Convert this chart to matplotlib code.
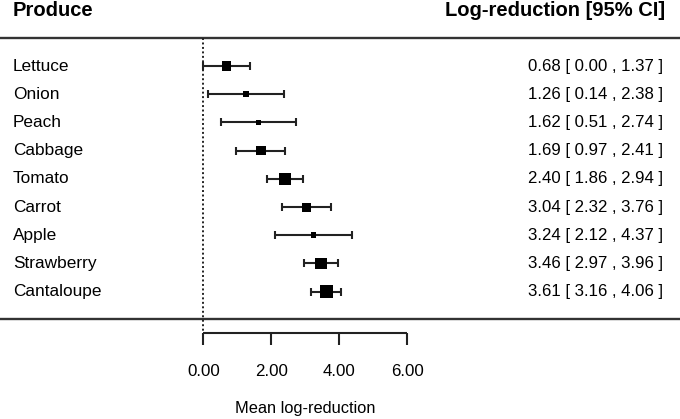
import matplotlib
matplotlib.use("Agg")
import matplotlib.pyplot as plt
import numpy as np

plt.rcParams['font.family'] = ['Liberation Sans', 'DejaVu Sans']

produce = ["Lettuce", "Onion", "Peach", "Cabbage", "Tomato", "Carrot",
           "Apple", "Strawberry", "Cantaloupe"]
mean = [0.68, 1.26, 1.62, 1.69, 2.40, 3.04, 3.24, 3.46, 3.61]
lower = [0.00, 0.14, 0.51, 0.97, 1.86, 2.32, 2.12, 2.97, 3.16]
upper = [1.37, 2.38, 2.74, 2.41, 2.94, 3.76, 4.37, 3.96, 4.06]
weight_px = [9.5, 5.5, 5.5, 9.5, 11.5, 9, 5.5, 11.5, 13]   # square side (pixels), from weights
x_ticks = [0, 2, 4, 6]
tick_labels = ["0.00", "2.00", "4.00", "6.00"]

W, H = 680, 419
fig = plt.figure(figsize=(W / 100, H / 100), dpi=100)
ax = fig.add_axes([0, 0, 1, 1])
ax.axis('off')

X0, XS = 203.3, 34.0      # pixel of x=0, pixels per unit
Y0, YS = 66.0, 28.2       # pixel of first row, pixels per row


def px(p):
    return (p - X0) / XS


def py(p):
    return (p - Y0) / YS


ax.set_xlim(px(0), px(W))
ax.set_ylim(py(H), py(0))

rows = np.arange(len(produce))
mean_a = np.array(mean)
lo_a = np.array(lower)
hi_a = np.array(upper)

# header
ax.text(px(13), py(10), "Produce", fontsize=14.5, fontweight='bold',
        ha='left', va='center')
ax.text(px(665), py(10), "Log-reduction [95% CI]", fontsize=14.5,
        fontweight='bold', ha='right', va='center')

# horizontal rules
ax.plot([px(0), px(W)], [py(38.3), py(38.3)], color='#333333', lw=1.7,
        solid_capstyle='butt')
ax.plot([px(0), px(W)], [py(319), py(319)], color='#333333', lw=1.7,
        solid_capstyle='butt')

# null line
ax.plot([0, 0], [py(38.3), py(333)], color='#222222', lw=1.4,
        linestyle=(0, (1, 1.3)))

# error bars and squares
ax.errorbar(mean_a, rows, xerr=[mean_a - lo_a, hi_a - mean_a], fmt='none',
            ecolor='#222222', elinewidth=1.5, capsize=2.6, capthick=1.5,
            zorder=3)
sizes_pt = np.array(weight_px) * 72 / 100
ax.scatter(mean_a, rows, marker='s', s=sizes_pt ** 2, color='black',
           linewidths=0, zorder=4)

# labels
for i, (name, m, l, u) in enumerate(zip(produce, mean, lower, upper)):
    ax.text(px(13), i, name, fontsize=12.4, ha='left', va='center')
    ax.text(px(663), i, f"{m:.2f} [ {l:.2f} , {u:.2f} ]", fontsize=12.1,
            ha='right', va='center')

# x-axis bracket
ax.plot([x_ticks[0], x_ticks[-1]], [py(333), py(333)], color='#222222',
        lw=1.5, solid_capstyle='butt')
for t, lab in zip(x_ticks, tick_labels):
    ax.plot([t, t], [py(333), py(345)], color='#222222', lw=1.5,
            solid_capstyle='butt')
    ax.text(t, py(371), lab, fontsize=12.2, ha='center', va='center')

ax.text(np.mean([x_ticks[0], x_ticks[-1]]), py(408), "Mean log-reduction",
        fontsize=11.8, ha='center', va='center')

fig.savefig("out.png", dpi=100)
